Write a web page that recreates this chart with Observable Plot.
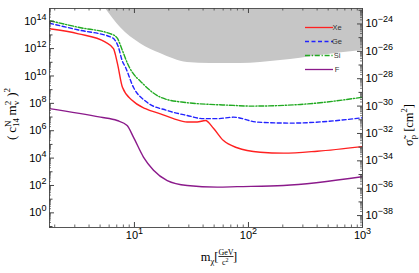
<!DOCTYPE html>
<html><head><meta charset="utf-8">
<script src="https://cdn.jsdelivr.net/npm/d3@7"></script>
<script src="https://cdn.jsdelivr.net/npm/@observablehq/plot@0.6"></script>
<style>body{margin:0;background:#fff} svg{display:block}</style>
</head><body><div id="chart"></div>
<script>
// ---- data ----
const massXe = [1.8, 3.23, 5.57, 6.55, 7.1, 7.85, 9.6, 12.5, 16.9, 22.0, 29.0, 35.5, 42.0, 49.3, 60.4, 79.6, 127, 203, 401, 1000];
const valXe  = [2.8e13, 1.2e13, 3.0e12, 9.8e11, 8e10, 1.5e9, 1.6e8, 4.1e7, 1.7e7, 7.6e6, 4.3e6, 4.3e6, 5.6e6, 1.5e6, 1.9e5, 5.7e4, 2.7e4, 2.3e4, 3.2e4, 7.0e4];
const massGe = [1.8, 3.23, 6.41, 7.24, 7.8, 8.34, 9.8, 12.9, 19.4, 29.0, 40.3, 53.1, 73.8, 119, 233, 490, 1000];
const valGe  = [7.1e13, 2.3e13, 6.2e12, 1.26e12, 1.35e11, 4.4e10, 1.5e9, 1.2e8, 3.0e7, 1.3e7, 7.6e6, 7.6e6, 9.8e6, 4.3e6, 3.6e6, 4.8e6, 8.9e6];
const massSi = [1.8, 3.23, 6.41, 7.1, 7.85, 8.7, 12.2, 16.9, 26.9, 73.8, 104, 286, 1000];
const valSi  = [1.1e14, 3.6e13, 1.07e13, 5.5e12, 7.2e11, 8.1e10, 2.2e9, 2.8e8, 1.2e8, 7.1e7, 6.3e7, 8.3e7, 2.8e8];
const massF  = [1.8, 5.04, 7.05, 8.63, 9.8, 12.0, 14.7, 19.4, 29.0, 53.1, 79.6, 203, 1000];
const valF   = [4.1e7, 9.8e6, 5.6e6, 2.4e6, 3.4e5, 1.2e4, 1.3e3, 230, 100, 76, 82, 100, 440];
const massExcl = [5.57, 7.54, 11.3, 16.9, 29.2, 46.4, 85, 191, 427, 1000];
const valExcl  = [8.5e14, 3.5e13, 2.3e12, 4.4e11, 9.8e10, 8.1e10, 8.1e10, 1.35e11, 3.2e11, 7.2e11];
const seriesNames = ["Xe", "Ge", "Si", "F"];
const seriesColors = ["#ff2020", "#2222ff", "#22aa22", "#8b1a8b"];
const seriesDash = [null, "4,2.5", "5,1.8,1.2,1.8", null];
const leftTickExp = [0, 2, 4, 6, 8, 10, 12, 14];
const rightTickExp = [-24, -26, -28, -30, -32, -34, -36, -38];
const xTickExp = [1, 2, 3];
const sigmaFactor = 10 ** 37.8; // conversion from sigma_p [cm^2] to left-axis units

// ---- layout ----
const W = 419, H = 273, mL = 49, mR = 57, mT = 8, mB = 46;
const pw = W - mL - mR, ph = H - mT - mB;
const xDom = [1.8, 1000], yDom = [10 ** -1.07, 10 ** 14.93];
const inY = v => v >= yDom[0] && v <= yDom[1];
const inX = v => v >= xDom[0] && v <= xDom[1];

const yMinor = [], yMid = [];
for (let k = -2; k <= 15; k++) {
  for (let m = 2; m <= 9; m++) if (inY(m * 10 ** k)) yMinor.push(m * 10 ** k);
  if (inY(10 ** k) && k % 2 !== 0) yMid.push(10 ** k);
}
const rMinor = [], rMid = [];
for (let k = -40; k <= -22; k++) {
  for (let m = 2; m <= 9; m++) { const v = m * 10 ** k * sigmaFactor; if (inY(v)) rMinor.push(v); }
  const v = 10 ** k * sigmaFactor; if (inY(v) && k % 2 !== 0) rMid.push(v);
}
const xMinor = [];
for (let k = 0; k <= 3; k++) for (let m = 2; m <= 9; m++) if (inX(m * 10 ** k)) xMinor.push(m * 10 ** k);

const mk = (xs, ys, name) => xs.map((x, i) => ({x, y: ys[i], name}));
const seriesData = [mk(massXe, valXe, "Xe"), mk(massGe, valGe, "Ge"), mk(massSi, valSi, "Si"), mk(massF, valF, "F")];
const excl = mk(massExcl, valExcl, "excl");

const tickColor = "#444";
const sans = "Liberation Sans, Arial, sans-serif";
const serif = "Liberation Serif, Times New Roman, serif";

function legendMark() {
  const g = d3.create("svg:g");
  seriesNames.forEach((n, i) => {
    const y = mT + 19.5 + i * 14;
    g.append("line").attr("x1", W - mR - 57).attr("x2", W - mR - 29).attr("y1", y).attr("y2", y)
      .attr("stroke", seriesColors[i]).attr("stroke-width", 1.3)
      .attr("stroke-dasharray", seriesDash[i]);
    g.append("text").attr("x", W - mR - 25).attr("y", y).attr("dy", "0.35em")
      .attr("font-size", 7.5).attr("font-family", sans).attr("fill", "#333").text(n);
  });
  return g.node();
}

const plot = Plot.plot({
  width: W, height: H,
  marginLeft: mL, marginRight: mR, marginTop: mT, marginBottom: mB,
  x: {type: "log", domain: xDom, axis: null},
  y: {type: "log", domain: yDom, axis: null},
  style: {background: "white", overflow: "visible"},
  marks: [
    Plot.areaY(excl, {x: "x", y1: "y", y2: () => 1e17, fill: "#c6c6c6", curve: "monotone-x", clip: true}),
    ...seriesData.map((d, i) => Plot.line(d, {x: "x", y: "y", stroke: seriesColors[i], strokeWidth: 1.4,
      strokeDasharray: seriesDash[i] ?? undefined, curve: "monotone-x", clip: true})),
    legendMark,
    Plot.frame({stroke: "#555", strokeWidth: 1}),
    // left ticks
    Plot.tickY(leftTickExp.map(e => 10 ** e), {y: d => d, stroke: tickColor, insetRight: pw - 5}),
    Plot.tickY(yMid, {y: d => d, stroke: tickColor, insetRight: pw - 3.5}),
    Plot.tickY(yMinor, {y: d => d, stroke: tickColor, strokeWidth: 0.7, insetRight: pw - 2}),
    // right ticks
    Plot.tickY(rightTickExp.map(e => 10 ** e * sigmaFactor), {y: d => d, stroke: tickColor, insetLeft: pw - 5}),
    Plot.tickY(rMid, {y: d => d, stroke: tickColor, insetLeft: pw - 3.5}),
    Plot.tickY(rMinor, {y: d => d, stroke: tickColor, strokeWidth: 0.7, insetLeft: pw - 2}),
    // bottom & top ticks
    Plot.tickX(xTickExp.map(e => 10 ** e), {x: d => d, stroke: tickColor, insetTop: ph - 5}),
    Plot.tickX(xMinor, {x: d => d, stroke: tickColor, strokeWidth: 0.8, insetTop: ph - 2.5}),
    Plot.tickX(xTickExp.map(e => 10 ** e), {x: d => d, stroke: tickColor, insetBottom: ph - 5}),
    Plot.tickX(xMinor, {x: d => d, stroke: tickColor, strokeWidth: 0.8, insetBottom: ph - 2.5}),
    // tick labels
    Plot.text(leftTickExp, {y: d => 10 ** d, text: d => "10^" + d, frameAnchor: "left", dx: -3,
      textAnchor: "end", fontSize: 11, fontFamily: sans, fill: "black"}),
    Plot.text(rightTickExp, {y: d => 10 ** d * sigmaFactor, text: d => "10^" + d, frameAnchor: "right", dx: 3,
      textAnchor: "start", fontSize: 11, fontFamily: sans, fill: "black"}),
    Plot.text(xTickExp, {x: d => 10 ** d, text: d => "10^" + d, frameAnchor: "bottom", dy: 11,
      textAnchor: "middle", fontSize: 11, fontFamily: sans, fill: "black"}),
    // titles
    Plot.text(["YLEFT"], {text: d => d, frameAnchor: "left", dx: -38, dy: -4, rotate: -90,
      textAnchor: "middle", fontSize: 13, fontFamily: serif, fill: "black"}),
    Plot.text(["YRIGHT"], {text: d => d, frameAnchor: "right", dx: 46, dy: 7, rotate: -90,
      textAnchor: "middle", fontSize: 12.5, fontFamily: serif, fill: "black"}),
    Plot.text(["XTITLE"], {text: d => d, frameAnchor: "bottom", dx: 13, dy: 33,
      textAnchor: "middle", fontSize: 12.5, fontFamily: serif, fill: "black"})
  ]
});

// rich text post-processing (superscripts, subscripts)
function rich(el, parts) {
  el.textContent = "";
  let cur = 0;
  for (const p of parts) {
    const [s, off, size, dx, extra] = p;
    const t = document.createElementNS("http://www.w3.org/2000/svg", "tspan");
    t.textContent = s;
    if (off - cur !== 0) t.setAttribute("dy", off - cur);
    if (dx) t.setAttribute("dx", dx);
    t.setAttribute("font-size", size);
    if (extra) t.setAttribute("text-decoration", extra);
    cur = off;
    el.appendChild(t);
  }
}
plot.querySelectorAll("text").forEach(el => {
  const s = el.textContent;
  const m = s.match(/^10\^(-?\d+)$/);
  if (m) {
    const e = m[1].replace("-", "\u2212");
    rich(el, [["10", 0, 11], [e, -5, 9]]);
  } else if (s === "YLEFT") {
    rich(el, [["(", 0, 13], ["c", 0, 13, 3], ["14", 3.5, 9], ["N", -5, 9, -9], ["m", 0, 13, 5], ["v", 3.5, 9],
      ["2", -5, 9, -4.5], [")", 0, 13, 4], ["2", -6, 9]]);
  } else if (s === "YRIGHT") {
    rich(el, [["\u03C3\u0303", 0, 12.5], ["p", 3.5, 8.5], [" [cm", 0, 12.5], ["2", -5.5, 8.5], ["]", 0, 12.5]]);
  } else if (s === "XTITLE") {
    rich(el, [["m", 0, 12.5], ["\u03C7", 3, 8.5], ["[", 0, 12.5], ["GeV", -5.5, 8, null, "underline"],
      ["c", 4.5, 8, -11.5], ["2", 1, 6], ["]", 0, 12.5, 4.5]]);
  }
});
document.getElementById("chart").appendChild(plot);
</script>
</body></html>
